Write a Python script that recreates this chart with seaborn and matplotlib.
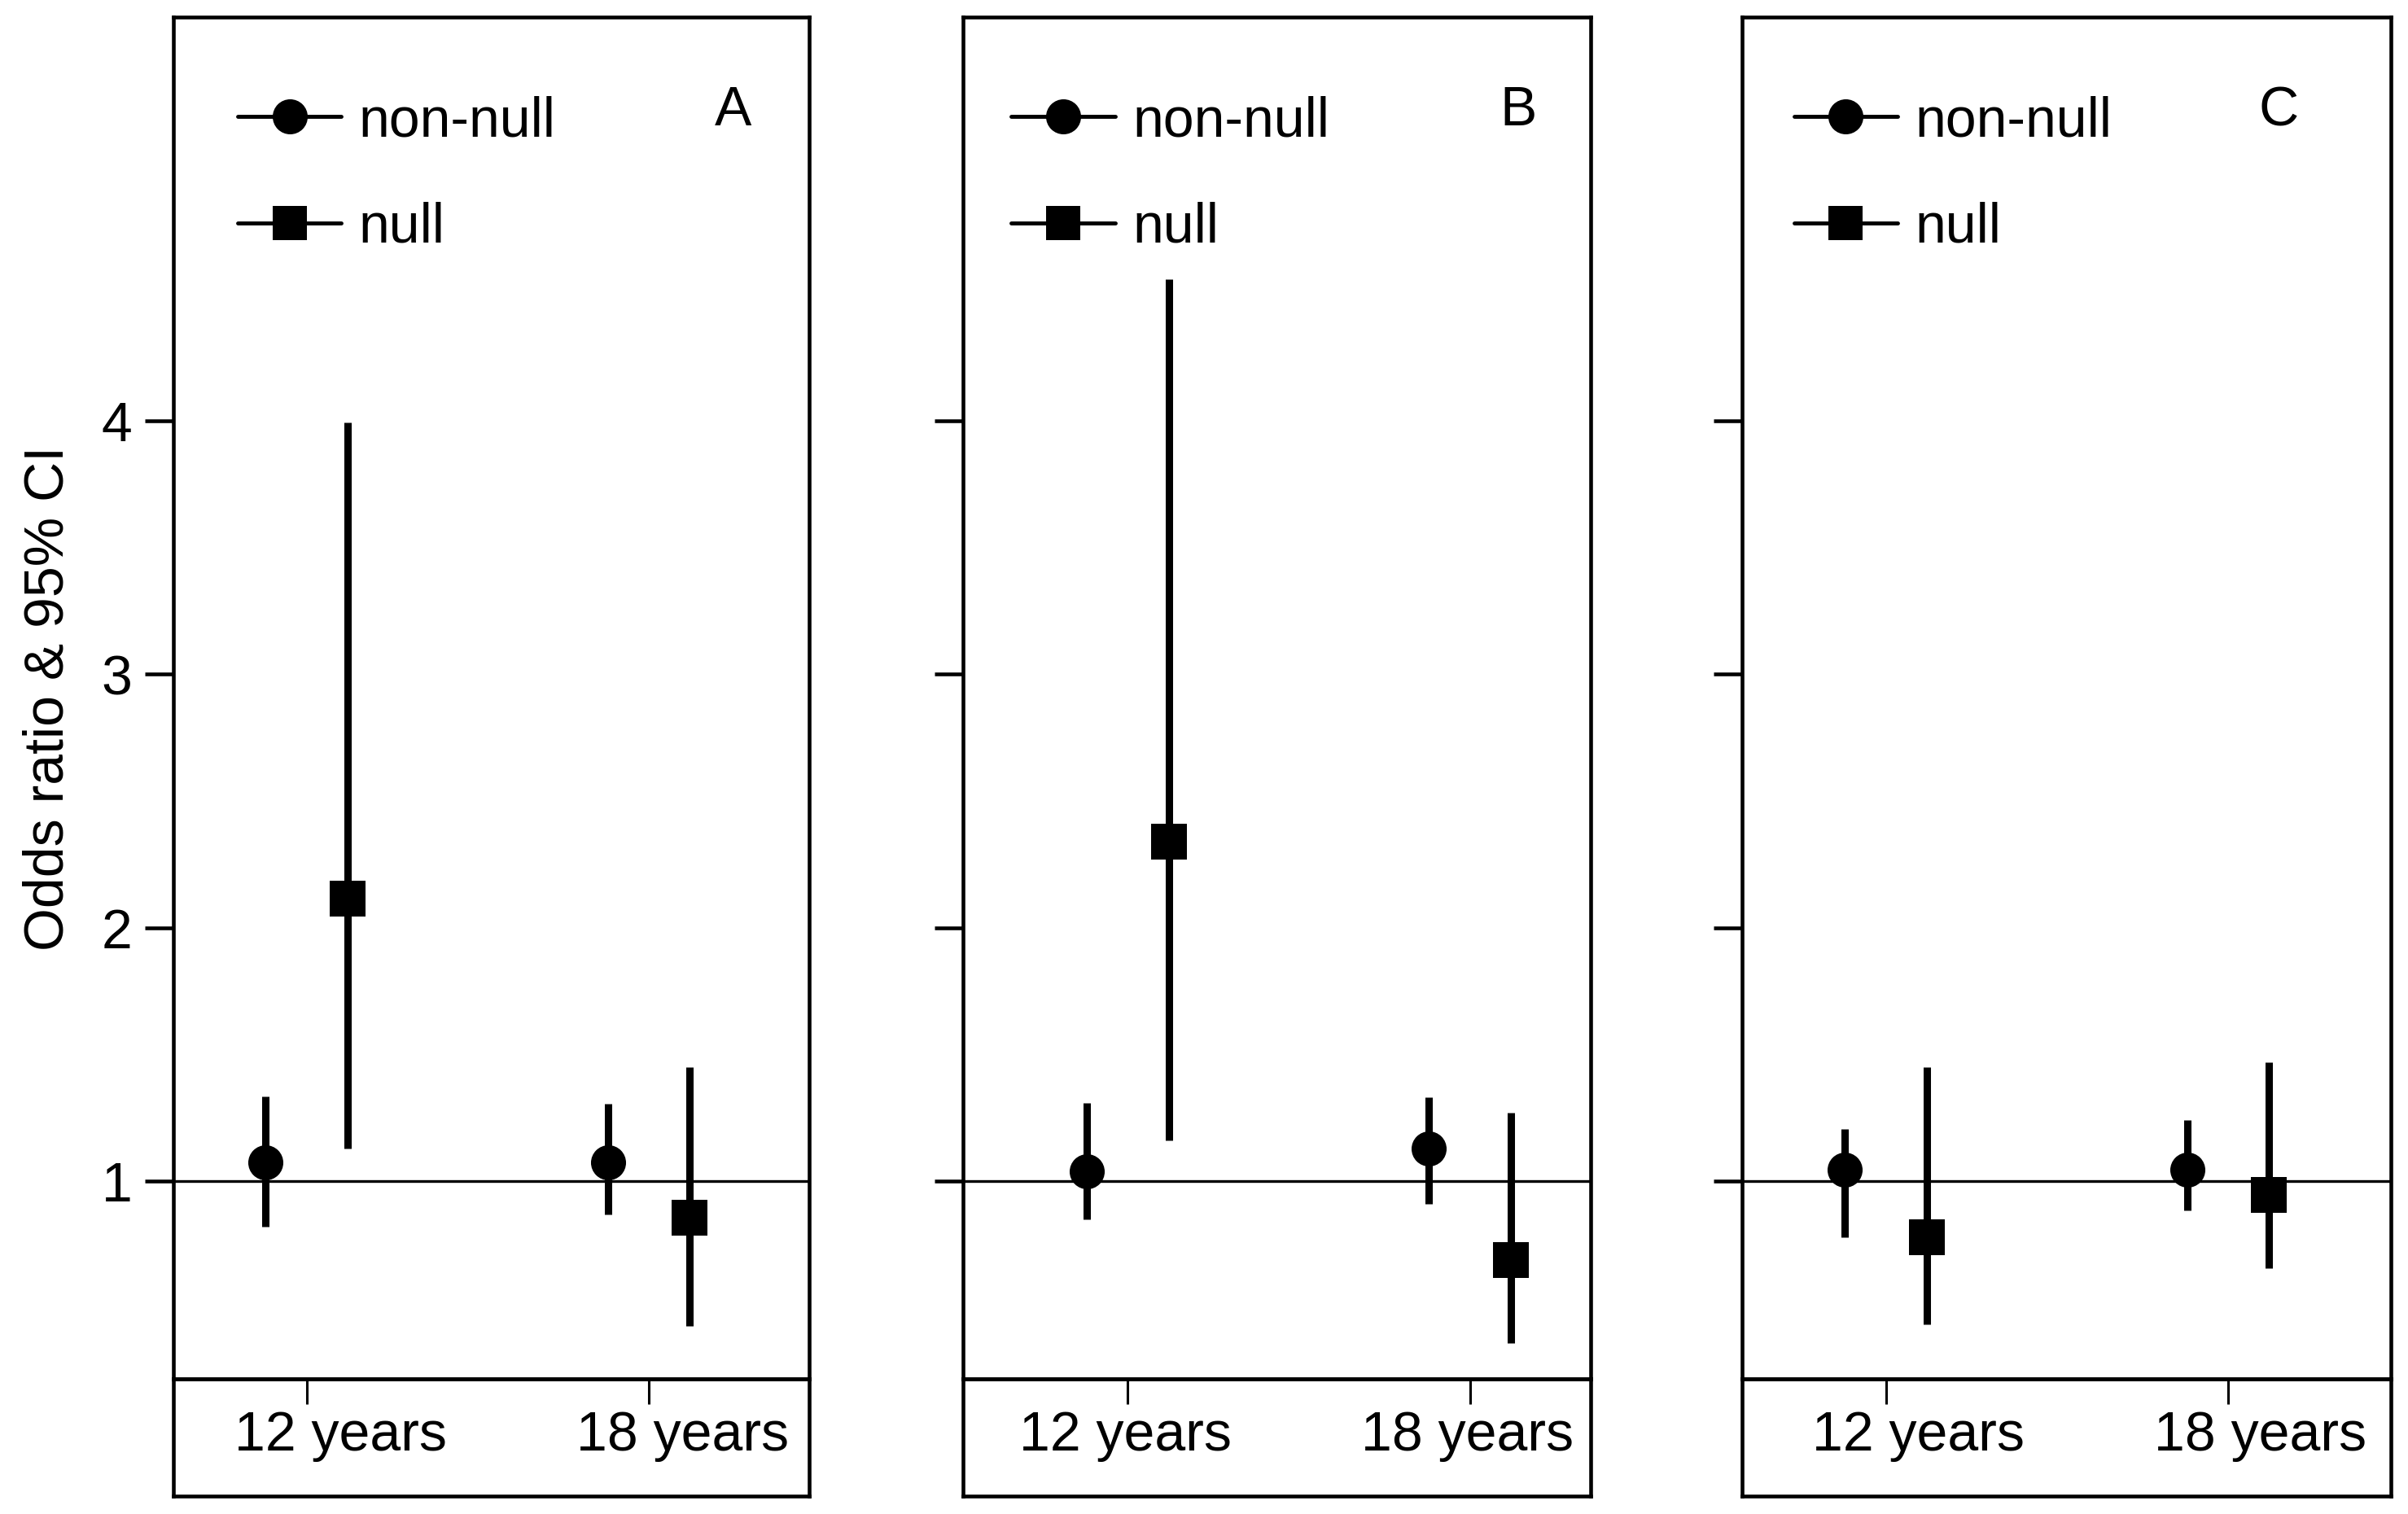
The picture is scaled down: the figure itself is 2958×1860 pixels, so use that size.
import numpy as np
import pandas as pd
import matplotlib
matplotlib.use("Agg")
import matplotlib.pyplot as plt
import matplotlib.transforms as mtransforms
from matplotlib.lines import Line2D
import seaborn as sns

# values: order is (12 y non-null, 12 y null, 18 y non-null, 18 y null)
ages = ["12 years", "18 years"]
groups = ["non-null", "null"]
panels = ["A", "B", "C"]

odds_A = [1.074, 2.115, 1.074, 0.855]
lower_A = [0.82, 1.13, 0.87, 0.43]
upper_A = [1.335, 3.995, 1.307, 1.45]

odds_B = [1.04, 2.34, 1.13, 0.69]
lower_B = [0.85, 1.16, 0.91, 0.36]
upper_B = [1.31, 4.56, 1.33, 1.27]

odds_C = [1.045, 0.78, 1.045, 0.945]
lower_C = [0.78, 0.435, 0.885, 0.657]
upper_C = [1.205, 1.45, 1.24, 1.468]

yticks = [1, 2, 3, 4]

sns.set_style("ticks")
plt.rcParams["font.family"] = ["Liberation Sans", "DejaVu Sans"]
plt.rcParams.update({
    "text.color": "black",
    "axes.labelcolor": "black",
    "xtick.color": "black",
    "ytick.color": "black",
    "xtick.labelcolor": "black",
    "ytick.labelcolor": "black",
})
FS = 49
LW = 3.3


def long_table(odds, lower, upper):
    rows = []
    for i, (o, lo, hi) in enumerate(zip(odds, lower, upper)):
        age = ages[i // 2]
        grp = groups[i % 2]
        for v in (lo, o, hi):
            rows.append({"age": age, "group": grp, "value": v})
    return pd.DataFrame(rows)


tables = {
    "A": long_table(odds_A, lower_A, upper_A),
    "B": long_table(odds_B, lower_B, upper_B),
    "C": long_table(odds_C, lower_C, upper_C),
}

W, H = 2958, 1860
fig = plt.figure(figsize=(W / 100, H / 100), dpi=100)

# layout in pixels: box left/right, x-limits, label offsets, legend x, letter x
layout = {
    "A": dict(left=213, right=994, xlim=(-0.390, 1.469), lab_dx=42, leg_x=0.101, let_x=0.880),
    "B": dict(left=1183, right=1954, xlim=(-0.480, 1.352), lab_dx=-3, leg_x=0.077, let_x=0.885),
    "C": dict(left=2140, right=2937, xlim=(-0.421, 1.476), lab_dx=40, leg_x=0.080, let_x=0.827),
}
top_px, axis_px, bottom_px = 21, 1694, 1838

for name in panels:
    lay = layout[name]
    x0 = lay["left"] / W
    w = (lay["right"] - lay["left"]) / W
    ax = fig.add_axes([x0, 1 - axis_px / H, w, (axis_px - top_px) / H])
    lab_ax = fig.add_axes([x0, 1 - bottom_px / H, w, (bottom_px - axis_px) / H])

    sns.pointplot(
        data=tables[name], x="age", y="value", hue="group",
        order=ages, hue_order=groups, palette=["black", "black"],
        estimator="median", errorbar=("pi", 100),
        markers=["o", "s"], linestyles="none", dodge=0.24,
        markersize=31, markeredgewidth=0,
        err_kws={"linewidth": 6.5, "solid_capstyle": "butt"},
        legend=False, ax=ax,
    )
    ax.axhline(1, color="black", lw=2.4, zorder=0)

    ax.set_xlim(*lay["xlim"])
    ax.set_ylim(0.22, 5.593)
    ax.set_yticks(yticks)
    ax.set_xlabel("")
    for s in ax.spines.values():
        s.set_visible(True)
        s.set_linewidth(LW)
        s.set_color("black")
    ax.tick_params(axis="y", direction="out", length=25, width=LW, pad=11.5,
                   labelsize=FS, color="black", labelcolor="black")
    ax.tick_params(axis="x", direction="out", length=22, width=2.2, pad=5,
                   labelsize=FS, color="black", labelcolor="black")
    if name == "A":
        ax.set_ylabel("Odds ratio & 95% CI", fontsize=FS, color="black")
        ax.yaxis.set_label_coords(-0.155, 0.5)
    else:
        ax.set_ylabel("")
        ax.set_yticklabels([])
    shift = mtransforms.ScaledTranslation(lay["lab_dx"] / 100, 0, fig.dpi_scale_trans)
    for lbl in ax.get_xticklabels():
        lbl.set_transform(lbl.get_transform() + shift)

    handles = [
        Line2D([], [], color="black", lw=3.5, marker="o", markersize=31, markeredgewidth=0),
        Line2D([], [], color="black", lw=3.5, marker="s", markersize=30, markeredgewidth=0),
    ]
    leg = ax.legend(handles, groups, loc="upper left", bbox_to_anchor=(lay["leg_x"], 0.9425),
                    frameon=False, fontsize=FS, handlelength=1.87, handletextpad=0.32,
                    labelspacing=0.98, borderpad=0, borderaxespad=0)
    for t in leg.get_texts():
        t.set_color("black")
    ax.text(lay["let_x"], 0.931, name, transform=ax.transAxes, ha="center",
            va="center", fontsize=FS, color="black")

    lab_ax.set_xticks([])
    lab_ax.set_yticks([])
    for s in lab_ax.spines.values():
        s.set_visible(True)
        s.set_linewidth(LW)
        s.set_color("black")
    lab_ax.patch.set_alpha(0)

fig.savefig("out.png", dpi=100, facecolor="white")
